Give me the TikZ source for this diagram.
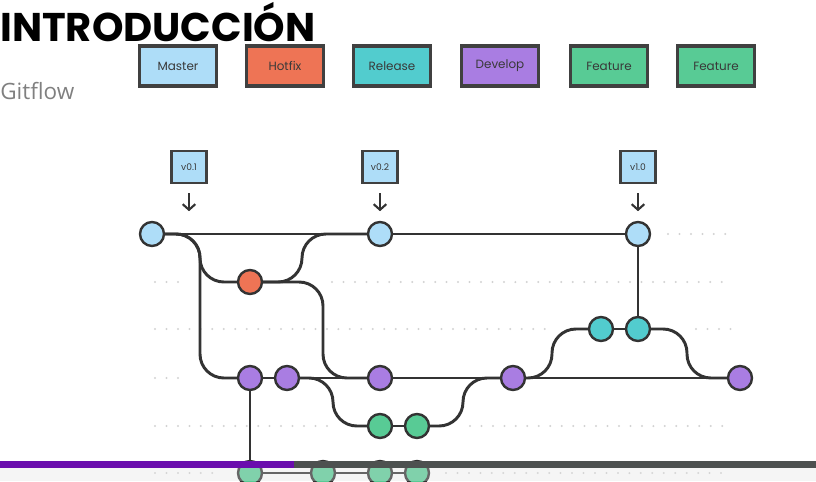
\documentclass[tikz,border=0pt]{standalone}
\usepackage{fontspec}
\setmainfont{Poppins}
\newfontfamily\bodyfont{Open Sans}
\usepackage{tikz}
\usetikzlibrary{arrows.meta}
\usepackage{xcolor}
\definecolor{masterblue}{HTML}{AEDDF8}
\definecolor{hotfixred}{HTML}{EE7455}
\definecolor{releasecyan}{HTML}{52CCCE}
\definecolor{developpurple}{HTML}{A97DE2}
\definecolor{featuregreen}{HTML}{58CB95}
\definecolor{lineclr}{HTML}{333333}
\definecolor{boxline}{HTML}{404040}
\definecolor{barpurple}{HTML}{6A0DAD}
\definecolor{bargray}{HTML}{4D5150}

\begin{document}
\begin{tikzpicture}[
    x=0.025cm, y=-0.025cm,
    legend/.style={rectangle, draw=boxline, line width=2.2pt,
                   minimum width=1.925cm, minimum height=1cm,
                   font=\fontsize{8.5}{9}\selectfont, text=gray!45!black},
    tag/.style={rectangle, draw=boxline, line width=1.7pt, fill=masterblue,
                minimum width=0.875cm, minimum height=0.8cm,
                font=\fontsize{6.5}{7}\selectfont, text=gray!45!black},
    commit/.style={circle, draw=lineclr, line width=1.7pt,
                   minimum size=0.6cm, inner sep=0pt},
    branch/.style={draw=lineclr, line width=2.1pt, rounded corners=17pt},
    dots/.style={gray!35, line width=1.6pt, line cap=round,
                 dash pattern=on 0pt off 8.15pt},
    tagarr/.style={-{Straight Barb[length=4pt,width=9pt]}, draw=lineclr,
                   line width=1.5pt},
]
  \useasboundingbox (0,0) rectangle (816,481);

  % Heading
  \node[anchor=west, inner sep=0pt, font=\bfseries\fontsize{28.5}{30}\selectfont]
    (title) at (0,22) {INTRODUCCIÓN};
  \node[anchor=west, inner sep=0pt, font=\bodyfont\fontsize{16}{18}\selectfont,
        text=gray] (sub) at (0,91) {Gitflow};

  % Legend
  \node[legend, fill=masterblue]    (lmaster)   at (178,66) {Master};
  \node[legend, fill=hotfixred]     (lhotfix)   at (285,66) {Hotfix};
  \node[legend, fill=releasecyan]   (lrelease)  at (392,66) {Release};
  \node[legend, fill=developpurple] (ldevelop)  at (500,66) {Develop};
  \node[legend, fill=featuregreen]  (lfeature)  at (609,66) {Feature};
  \node[legend, fill=featuregreen]  (lfeature2) at (716,66) {Feature};

  % Dotted guide rows
  \draw[dots] (668,234) -- (730,234);
  \draw[dots] (155,282) -- (180,282);
  \draw[dots] (332,282) -- (732,282);
  \draw[dots] (155,329) -- (551,329);
  \draw[dots] (696,329) -- (732,329);
  \draw[dots] (155,378) -- (188,378);
  \draw[dots] (155,426) -- (327,426);
  \draw[dots] (470,426) -- (730,426);
  \draw[dots] (155,473) -- (220,473);
  \draw[dots] (446,473) -- (730,473);

  % Commits: master, hotfix, release, develop, features
  \node[commit, fill=masterblue]    (m1) at (152,234) {};
  \node[commit, fill=masterblue]    (m2) at (380,234) {};
  \node[commit, fill=masterblue]    (m3) at (638,234) {};
  \node[commit, fill=hotfixred]     (h1) at (250,282) {};
  \node[commit, fill=releasecyan]   (r1) at (601,329) {};
  \node[commit, fill=releasecyan]   (r2) at (638,329) {};
  \node[commit, fill=developpurple] (d1) at (250,378) {};
  \node[commit, fill=developpurple] (d2) at (287,378) {};
  \node[commit, fill=developpurple] (d3) at (380,378) {};
  \node[commit, fill=developpurple] (d4) at (513,378) {};
  \node[commit, fill=developpurple] (d5) at (740,378) {};
  \node[commit, fill=featuregreen]  (f1) at (380,426) {};
  \node[commit, fill=featuregreen]  (f2) at (417,426) {};
  \node[commit, fill=featuregreen]  (g1) at (250,473) {};
  \node[commit, fill=featuregreen]  (g2) at (323,473) {};
  \node[commit, fill=featuregreen]  (g3) at (380,473) {};
  \node[commit, fill=featuregreen]  (g4) at (417,473) {};

  % Bend points
  \coordinate (k1) at (200,282);
  \coordinate (k2) at (200,378);
  \coordinate (k3) at (302,234);
  \coordinate (k4) at (323,378);
  \coordinate (k5) at (333,426);
  \coordinate (k6) at (463,378);
  \coordinate (k7) at (552,329);
  \coordinate (k8) at (687,378);

  % Straight lines
  \draw[branch] (m1) -- (m2) -- (m3);
  \draw[branch] (d1) -- (d2) -- (d3) -- (d4) -- (d5);
  \draw[branch] (r1) -- (r2) -- (m3);
  \draw[branch] (f1) -- (f2);
  \draw[branch] (d1) -- (g1);
  \draw[branch] (g1) -- (g2) -- (g3) -- (g4);

  % Branching and merging
  \draw[branch] (m1) -| (k1) -- (h1);
  \draw[branch] (m1) -| (k2) -- (d1);
  \draw[branch] (h1) -| (k3) -- (m2);
  \draw[branch] (h1) -| (k4) -- (d3);
  \draw[branch] (d2) -| (k5) -- (f1);
  \draw[branch] (f2) -| (k6) -- (d4);
  \draw[branch] (d4) -| (k7) -- (r1);
  \draw[branch] (r2) -| (k8) -- (d5);

  % Version tags
  \node[tag] (t1) at (189,167) {v0.1};
  \node[tag] (t2) at (380,167) {v0.2};
  \node[tag] (t3) at (638,167) {v1.0};
  \draw[tagarr] (t1.south) ++(0,9) -- ++(0,18);
  \draw[tagarr] (t2.south) ++(0,9) -- ++(0,18);
  \draw[tagarr] (t3.south) ++(0,9) -- ++(0,18);

  % Player bar
  \fill[barpurple] (0,461) rectangle (294,468);
  \fill[bargray] (294,461) rectangle (816,468);
  \fill[gray!25, opacity=0.3] (0,468) rectangle (816,481);
\end{tikzpicture}
\end{document}
